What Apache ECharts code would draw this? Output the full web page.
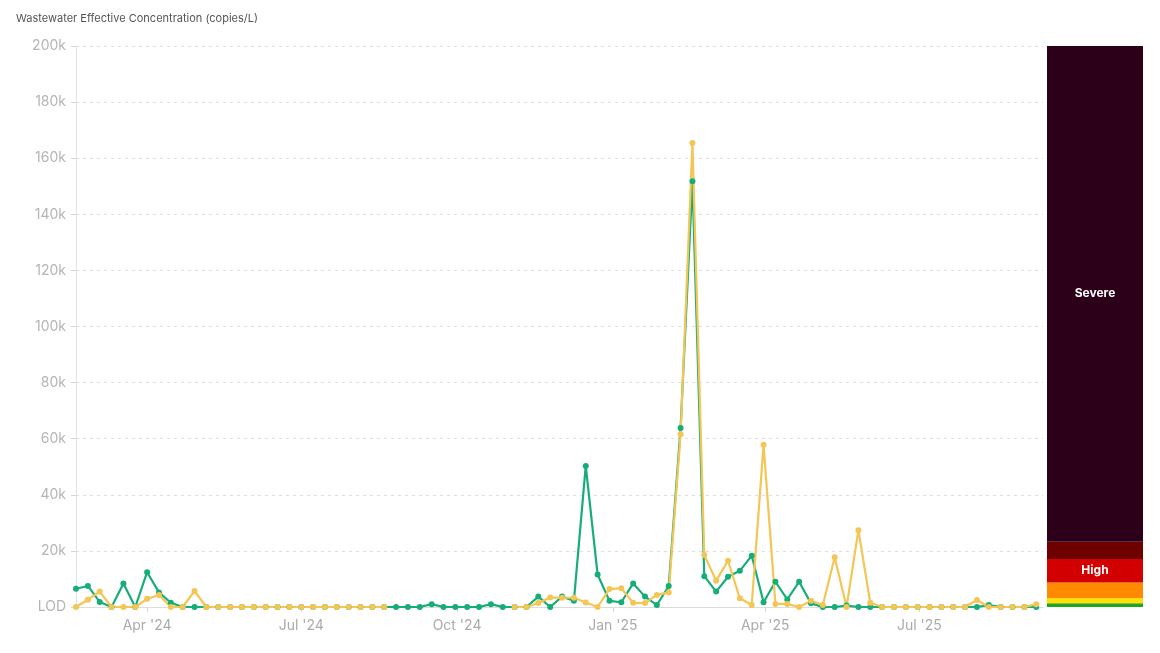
<!DOCTYPE html>
<html>
<head>
<meta charset="utf-8">
<title>Wastewater Effective Concentration</title>
<script src="https://cdn.jsdelivr.net/npm/echarts@6/dist/echarts.min.js"></script>
<style>
  html, body { margin: 0; padding: 0; background: #fff; }
  #chart { width: 1160px; height: 653px; }
</style>
</head>
<body>
<div id="chart"></div>
<script>
// weekly sample dates
var sampleDates = [
  '2024-02-19','2024-02-26','2024-03-04','2024-03-11','2024-03-18','2024-03-25',
  '2024-04-01','2024-04-08','2024-04-15','2024-04-22','2024-04-29',
  '2024-05-06','2024-05-13','2024-05-20','2024-05-27',
  '2024-06-03','2024-06-10','2024-06-17','2024-06-24',
  '2024-07-01','2024-07-08','2024-07-15','2024-07-22','2024-07-29',
  '2024-08-05','2024-08-12','2024-08-19','2024-08-26',
  '2024-09-02','2024-09-09','2024-09-16','2024-09-23','2024-09-30',
  '2024-10-07','2024-10-14','2024-10-21','2024-10-28',
  '2024-11-04','2024-11-11','2024-11-18','2024-11-25',
  '2024-12-02','2024-12-09','2024-12-16','2024-12-23','2024-12-30',
  '2025-01-06','2025-01-13','2025-01-20','2025-01-27',
  '2025-02-03','2025-02-10','2025-02-17','2025-02-24',
  '2025-03-03','2025-03-10','2025-03-17','2025-03-24','2025-03-31',
  '2025-04-07','2025-04-14','2025-04-21','2025-04-28',
  '2025-05-05','2025-05-12','2025-05-19','2025-05-26',
  '2025-06-02','2025-06-09','2025-06-16','2025-06-23','2025-06-30',
  '2025-07-07','2025-07-14','2025-07-21','2025-07-28',
  '2025-08-04','2025-08-11','2025-08-18','2025-08-25',
  '2025-09-01','2025-09-08'
];

// copies/L, green site
var greenValues = [
  6500, 7500, 1800, 0, 8400, 0, 12400, 5200, 1500, 0, 0,
  0, 0, 0, 0, 0, 0, 0, 0, 0, 0, 0, 0, 0, 0, 0, 0, 0, 0, 0,
  1000, 0, 0, 0, 0, 1000, 0, 0, 0, 3700, 0,
  3700, 2200, 50300, 11600, 2200, 1700, 8400, 3700, 700, 7500,
  63800, 151800, 11000, 5500, 10800, 12900, 18300, 1700, 9000, 2700,
  9000, 1300, 0, 0, 500, 0, 0, 0, 0, 0, 0, 0, 0, 0, 0, 0,
  700, 0, 0, 0, 0, 0
];

// copies/L, yellow site (null = no sample)
var yellowValues = [
  0, 2600, 5500, 0, 0, 0, 2900, 4300, 0, 0, 5700,
  0, 0, 0, 0, 0, 0, 0, 0, 0, 0, 0, 0, 0, 0, 0, 0,
  null, null, null, null, null, null, null, null, null, null,
  0, 0, 1400, 3400, 3300, 3300, 1600, 0, 6400, 6700, 1500, 1400, 4300, 5200,
  61600, 165400, 18500, 9400, 16500, 3100, 700, 57800, 1100, 1100,
  0, 2200, 700, 17700, 0, 27400, 1500, 0, 0, 0, 0, 0, 0, 0, 0,
  2500, 0, 0, 0, 0, 1000
];

// level bands on the right (upper bound of each level)
var levelNames = ['Very Low', 'Low', 'Moderate', 'High', 'Very High', 'Severe'];
var levelTops = [1300, 3100, 8700, 17100, 23300, 200000];
var levelColors = ['#1fa51f', '#ffe100', '#ff8a00', '#d20000', '#6e0000', '#2d001a'];
var levelLabels = ['', '', '', 'High', '', 'Severe'];

var yTicks = [0, 20000, 40000, 60000, 80000, 100000, 120000, 140000, 160000, 180000, 200000];

var monthNames = ['Jan','Feb','Mar','Apr','May','Jun','Jul','Aug','Sep','Oct','Nov','Dec'];
var FONT = 'Inter, "Noto Sans", sans-serif';

var myChart = echarts.init(document.getElementById('chart'));

function pairs(vals) {
  return sampleDates.map(function (d, i) { return [d, vals[i]]; });
}

var bandSeries = levelNames.map(function (name, i) {
  var prev = i === 0 ? 0 : levelTops[i - 1];
  return {
    name: name,
    type: 'bar',
    xAxisIndex: 1,
    yAxisIndex: 1,
    stack: 'levels',
    barWidth: '100%',
    silent: true,
    itemStyle: { color: levelColors[i] },
    label: {
      show: levelLabels[i] !== '',
      position: 'inside',
      formatter: levelLabels[i],
      color: '#fff',
      fontWeight: 'bold',
      fontSize: 12,
      fontFamily: FONT
    },
    data: [levelTops[i] - prev]
  };
});

var option = {
  animation: false,
  backgroundColor: '#fff',
  title: {
    text: 'Wastewater Effective Concentration (copies/L)',
    left: 11,
    top: 8,
    textStyle: { fontSize: 11, fontWeight: 'normal', color: '#555', fontFamily: FONT }
  },
  grid: [
    { left: 76, right: 117, top: 46, bottom: 46 },
    { left: 1047, right: 17, top: 46, bottom: 46 }
  ],
  xAxis: [
    {
      type: 'time',
      gridIndex: 0,
      min: +new Date('2024-02-19T00:00:00'),
      max: +new Date('2025-09-12T00:00:00'),
      splitNumber: 6,
      minInterval: 92 * 86400000,
      maxInterval: 92 * 86400000,
      axisLine: { show: true, lineStyle: { color: '#dcdcdc', width: 1 } },
      axisTick: { show: true, length: 5, lineStyle: { color: '#d6d6d6' } },
      splitLine: { show: false },
      axisLabel: {
        color: '#ababab',
        fontSize: 14,
        fontFamily: FONT,
        margin: 12,
        showMinLabel: false,
        showMaxLabel: false,
        hideOverlap: false,
        formatter: function (val) {
          var d = new Date(val);
          return monthNames[d.getMonth()] + " '" + String(d.getFullYear()).slice(2);
        }
      }
    },
    {
      type: 'category',
      gridIndex: 1,
      data: [''],
      show: false
    }
  ],
  yAxis: [
    {
      type: 'value',
      gridIndex: 0,
      min: 0,
      max: 200000,
      interval: 20000,
      axisLine: { show: true, lineStyle: { color: '#e2e2e2' } },
      axisTick: { show: true, length: 5, lineStyle: { color: '#d6d6d6' } },
      splitLine: { show: true, lineStyle: { color: '#dedede', type: [3, 4] } },
      axisLabel: {
        color: '#b5b5b5',
        fontSize: 14,
        fontFamily: FONT,
        margin: 10,
        formatter: function (v) {
          return v === yTicks[0] ? 'LOD' : (v / 1000) + 'k';
        }
      }
    },
    {
      type: 'value',
      gridIndex: 1,
      min: 0,
      max: 200000,
      show: false
    }
  ],
  series: [
    {
      name: 'Site A',
      type: 'line',
      data: pairs(greenValues),
      symbol: 'circle',
      symbolSize: 6,
      lineStyle: { color: '#17ad79', width: 2.2 },
      itemStyle: { color: '#17ad79' }
    },
    {
      name: 'Site B',
      type: 'line',
      data: pairs(yellowValues),
      connectNulls: false,
      symbol: 'circle',
      symbolSize: 6,
      lineStyle: { color: '#f3c655', width: 2.2 },
      itemStyle: { color: '#f3c655' }
    }
  ].concat(bandSeries)
};

myChart.setOption(option);
</script>
</body>
</html>
